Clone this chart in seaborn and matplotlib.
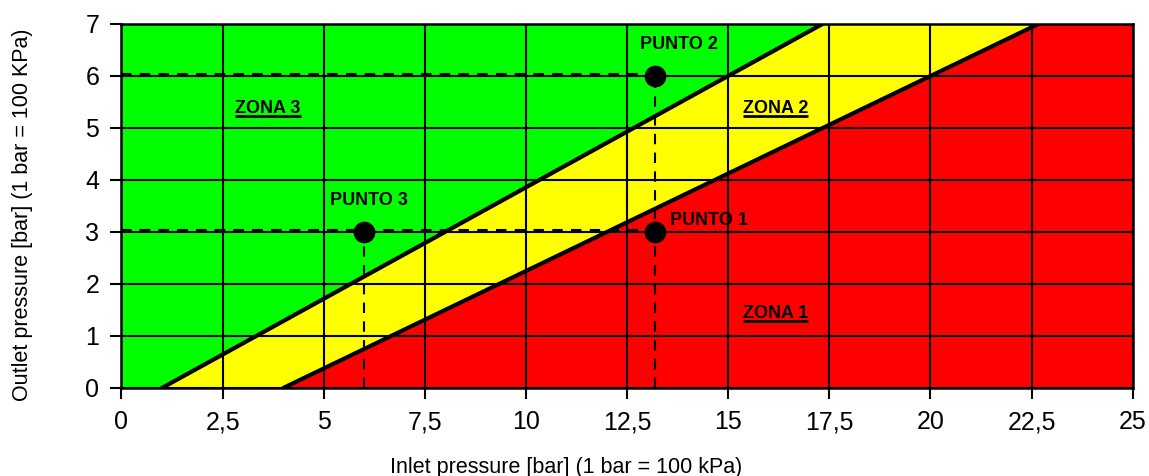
import numpy as np
import pandas as pd
import matplotlib
matplotlib.use('Agg')
import matplotlib.pyplot as plt
import seaborn as sns

# boundary lines between zones (inlet, outlet) in bar
upper_x = [1.0, 17.33]
upper_y = [0.0, 7.0]
lower_x = [4.0, 22.67]
lower_y = [0.0, 7.0]

# operating points
punto_names = ['PUNTO 1', 'PUNTO 2', 'PUNTO 3']
punto_x = [13.2, 13.2, 6.0]
punto_y = [3.0, 6.0, 3.0]

zona_names = ['ZONA 1', 'ZONA 2', 'ZONA 3']
zona_x = [16.17, 16.17, 3.62]
zona_y = [1.44, 5.38, 5.38]

x_ticks = [0, 2.5, 5, 7.5, 10, 12.5, 15, 17.5, 20, 22.5, 25]
x_labels = ['0', '2,5', '5', '7,5', '10', '12,5', '15', '17,5', '20', '22,5', '25']
y_ticks = [0, 1, 2, 3, 4, 5, 6, 7]

sns.set_style('white')
plt.rcParams['font.family'] = ['Liberation Sans', 'DejaVu Sans']
plt.rcParams['text.color'] = 'black'
plt.rcParams['axes.labelcolor'] = 'black'
plt.rcParams['xtick.color'] = 'black'
plt.rcParams['ytick.color'] = 'black'

fig = plt.figure(figsize=(11.49, 4.76), dpi=100)
ax = fig.add_axes([0.1057, 0.1849, 0.8801, 0.7647])

# zone fills
xs = np.linspace(0, 25, 501)
su = (upper_y[1] - upper_y[0]) / (upper_x[1] - upper_x[0])
sl = (lower_y[1] - lower_y[0]) / (lower_x[1] - lower_x[0])
up = np.clip(su * (xs - upper_x[0]), 0, 7)
lo = np.clip(sl * (xs - lower_x[0]), 0, 7)
ax.fill_between(xs, up, 7, color='#00FF00', lw=0, zorder=0)
ax.fill_between(xs, lo, up, color='#FFFF00', lw=0, zorder=0)
ax.fill_between(xs, 0, lo, color='#FF0000', lw=0, zorder=0)

# grid
for xv in x_ticks:
    ax.axvline(xv, color='black', lw=1.5, zorder=1)
for yv in y_ticks:
    ax.axhline(yv, color='black', lw=1.5, zorder=1)

lines = pd.DataFrame({'x': upper_x + lower_x, 'y': upper_y + lower_y,
                      'linea': ['sup', 'sup', 'inf', 'inf']})
sns.lineplot(data=lines, x='x', y='y', units='linea', estimator=None,
             color='black', lw=3, ax=ax, zorder=3, sort=False)

# dashed guides
for px, py in zip(punto_x, punto_y):
    ax.plot([0, px], [py + 0.03, py + 0.03], color='black', lw=1.5, ls=(0, (5, 4)), zorder=2)
    ax.plot([px, px], [0, py], color='black', lw=1.5, ls=(0, (5, 4)), zorder=2)

pts = pd.DataFrame({'x': punto_x, 'y': punto_y, 'name': punto_names})
sns.scatterplot(data=pts, x='x', y='y', color='black', s=210, edgecolor='black',
                ax=ax, zorder=4, legend=False)

ax.text(13.79, 6.61, 'PUNTO 2', ha='center', va='center', fontsize=13, fontweight='bold')
ax.text(6.11, 3.61, 'PUNTO 3', ha='center', va='center', fontsize=13, fontweight='bold')
ax.text(13.57, 3.23, 'PUNTO 1', ha='left', va='center', fontsize=13, fontweight='bold')

zona_texts = []
for name, zx, zy in zip(zona_names, zona_x, zona_y):
    zona_texts.append(ax.text(zx, zy, name, ha='center', va='center',
                              fontsize=13, fontweight='bold'))

ax.set_xlim(0, 25)
ax.set_ylim(0, 7)
ax.set_xticks(x_ticks)
ax.set_xticklabels(x_labels)
ax.set_yticks(y_ticks)
ax.tick_params(axis='both', labelsize=18, length=8, width=1.5, color='black',
               labelcolor='black', direction='out', bottom=True, left=True, pad=8)
for sp in ax.spines.values():
    sp.set_color('black')
    sp.set_linewidth(1.8)

ax.set_xlabel('Inlet pressure [bar] (1 bar = 100 kPa)', fontsize=15.5)
ax.set_ylabel('Outlet pressure [bar] (1 bar = 100 KPa)', fontsize=15.5)
ax.xaxis.set_label_coords(0.44, -0.19)
ax.yaxis.set_label_coords(-0.0875, 0.475)

# underline the zone labels
fig.canvas.draw()
inv = ax.transData.inverted()
for t in zona_texts:
    bb = t.get_window_extent()
    (x0, y0), (x1, y1) = inv.transform([[bb.x0, bb.y0 + 1], [bb.x1, bb.y0 + 1]])
    ax.plot([x0, x1], [y0, y1], color='black', lw=2, zorder=5, solid_capstyle='butt')

fig.savefig('out.png', dpi=100)
